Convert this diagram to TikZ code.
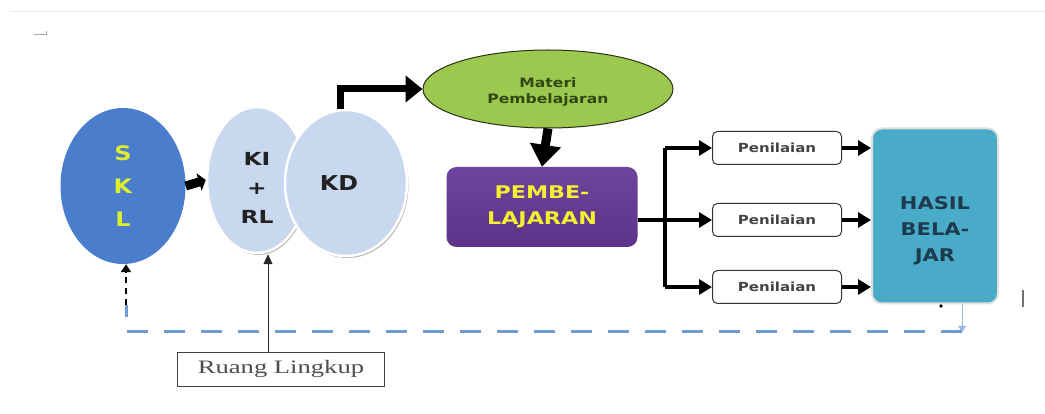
\documentclass[tikz,border=0pt]{standalone}
\usepackage{fontspec}
\usepackage{graphicx}
\usetikzlibrary{shapes.geometric,arrows.meta,calc,shadows}
\newfontfamily\dvs{DejaVu Sans}
\newfontfamily\lser{Liberation Serif}
\newcommand{\sx}[1]{\scalebox{1.2}[1]{#1}}
\definecolor{sklblue}{HTML}{4A7DCB}
\definecolor{skltext}{HTML}{DCEE2C}
\definecolor{kifill}{HTML}{C8D8EE}
\definecolor{matgreen}{HTML}{9DC850}
\definecolor{matdark}{HTML}{2C4A12}
\definecolor{pemtop}{HTML}{6F449E}
\definecolor{pembot}{HTML}{5C3388}
\definecolor{pemtext}{HTML}{F2F030}
\definecolor{hasilteal}{HTML}{4AABC8}
\definecolor{hasiltext}{HTML}{1E3B4E}
\definecolor{fbblue}{HTML}{6F9BD1}
\definecolor{textdark}{HTML}{222222}
\begin{document}
\begin{tikzpicture}[x=1pt,y=-1pt,
  bigarrow/.style={draw=black, line width=7pt, line join=miter, -{Triangle[length=17pt,width=26pt]}},
  busarrow/.style={draw=black, line width=3.5pt, -{Triangle[length=13pt,width=15pt]}},
  lightell/.style={ellipse, fill=kifill, draw=white, line width=2.5pt, inner sep=0pt,
     drop shadow={shadow xshift=1.5pt, shadow yshift=-2pt, fill=black!35, opacity=0.8},
     text=textdark, align=center},
  penbox/.style={rectangle, rounded corners=5pt, draw=black!80, line width=1pt, fill=white,
     minimum width=129pt, minimum height=33pt, inner sep=0pt,
     font=\dvs\bfseries\fontsize{12.5}{14}\selectfont, text=textdark!85},
  fbdash/.style={draw=fbblue, line width=3pt, dash pattern=on 21pt off 16pt},
]
\useasboundingbox (0,0) rectangle (1045,414);
\fill[white] (0,0) rectangle (1045,414);
% faint top rule and small mark
\draw[black!8, line width=1pt] (10,12) -- (1045,12);
\draw[black!35, line width=0.8pt] (34,34) -- (46,34) -- (46,31);

% SKL
\node[ellipse, fill=sklblue, minimum width=125pt, minimum height=156pt, inner sep=0pt,
  font=\dvs\bfseries\fontsize{20}{33}\selectfont, text=skltext, align=center]
  (skl) at (123,186) {\sx{S}\\\sx{K}\\\sx{L}};

% KI + RL and KD
\node[lightell, minimum width=100pt, minimum height=146pt,
  font=\dvs\bfseries\fontsize{18}{29}\selectfont] (ki) at (257,180)
  {\rule{0pt}{29pt}\scalebox{1.3}[1]{KI}\\\scalebox{1.3}[1]{+}\\\scalebox{1.3}[1]{RL}};
\node[lightell, minimum width=122pt, minimum height=146pt,
  font=\dvs\bfseries\fontsize{20.5}{24}\selectfont] (kd) at (346,183) {\hspace*{-14pt}\scalebox{1.16}[1]{KD}};

% Materi Pembelajaran
\node[ellipse, fill=matgreen, draw=black!75!matgreen, line width=1pt, minimum width=250pt, minimum height=78pt,
  inner sep=0pt, font=\dvs\bfseries\fontsize{13}{16}\selectfont, text=matdark, align=center]
  (mat) at (548,89) {\rule{0pt}{16pt}\sx{Materi}\\\sx{Pembelajaran}};

% PEMBELAJARAN
\node[rectangle, rounded corners=10pt, top color=pemtop, bottom color=pembot, minimum width=191pt,
  minimum height=80pt, inner sep=0pt, font=\dvs\bfseries\fontsize{17.5}{26}\selectfont,
  text=pemtext, align=center] (pem) at (542,207) {\scalebox{1.27}[1]{PEMBE-}\\\scalebox{1.27}[1]{LAJARAN}};

% Penilaian boxes
\node[penbox] (pen1) at (777,148) {\sx{Penilaian}};
\node[penbox] (pen2) at (777,220) {\sx{Penilaian}};
\node[penbox] (pen3) at (777,287) {\sx{Penilaian}};

% HASIL BELAJAR
\node[rectangle, rounded corners=10pt, fill=hasilteal, draw=black!12, line width=2pt,
  minimum width=126pt, minimum height=175pt, inner sep=0pt,
  font=\dvs\bfseries\fontsize{17.5}{26}\selectfont, text=hasiltext, align=center]
  (hasil) at (935,216) {\rule{0pt}{43pt}\sx{HASIL}\\\sx{BELA-}\\\sx{JAR}};

% Ruang Lingkup
\node[rectangle, draw=black!75, line width=1pt, minimum width=207pt, minimum height=34pt,
  inner sep=0pt, font=\lser\fontsize{19}{20}\selectfont, text=black!70] (rl) at (281,369)
  {\scalebox{1.4}[1]{Ruang Lingkup}};

% connectors
\draw[draw=black, line width=9pt, -{Triangle[length=7pt,width=18pt]}] (skl.east) -- (ki.west);
\draw[bigarrow] ([xshift=-6pt]kd.north) |- (mat.west);
\draw[draw=black, line width=9pt, -{Triangle[length=22pt,width=30pt]}] (mat.south) -- (pem.north);

\coordinate (bus) at (665,218);
\draw[black, line width=3.5pt] (bus |- pen1.west) -- (bus |- pen3.west);
\draw[busarrow] (pem.east |- pen2.west) -- (pen2.west);
\draw[busarrow] (bus |- pen1.west) -- (pen1.west);
\draw[busarrow] (bus |- pen3.west) -- (pen3.west);
\draw[busarrow] (pen1.east) -- (pen1.east -| hasil.west);
\draw[busarrow] (pen2.east) -- (pen2.east -| hasil.west);
\draw[busarrow] (pen3.east) -- (pen3.east -| hasil.west);

\draw[black!85, line width=1pt, -{Triangle[length=10pt,width=9pt]}] ([xshift=-13pt]rl.north) -- ([xshift=-13pt]rl.north |- ki.south);

% feedback loop
\coordinate (fbR) at (962,332);
\coordinate (fbL) at (126,332);
\coordinate (fbU) at (126,305);
\draw[fbblue!70, line width=0.8pt, -{Triangle[length=6pt,width=8pt]}] (hasil.south -| fbR) -- (fbR);
\draw[fbdash] (fbR) -- (fbL) -- (fbU);
\draw[black, line width=2.5pt, dash pattern=on 6pt off 5pt, -{Triangle[length=8pt,width=10pt]}] (fbU) -- (skl.south -| fbU);

% small marks near HASIL
\fill[black] (941,306) circle (1.8pt);
\draw[black!55, line width=1.5pt] (1023,290) -- (1023,307);
\end{tikzpicture}
\end{document}
